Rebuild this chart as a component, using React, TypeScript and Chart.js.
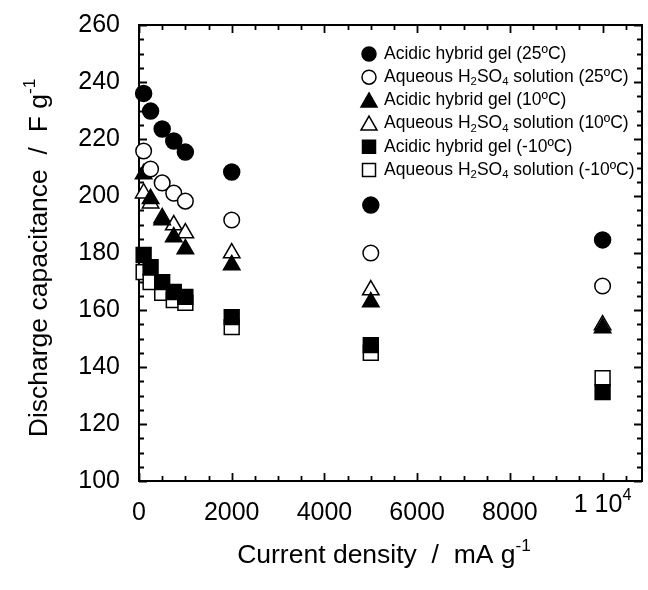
import React, { useEffect, useRef } from "react";
import { Chart, registerables } from "chart.js";

Chart.register(...registerables);

const currentDensity = [100, 250, 500, 750, 1000, 2000, 5000, 10000];
const gel25 = [236.0, 229.8, 223.5, 219.3, 215.4, 208.4, 196.8, 184.6];
const aq25 = [215.8, 209.5, 204.6, 201.0, 198.2, 191.6, 180.0, 168.4];
const gel10 = [207.7, 199.0, 191.6, 185.6, 181.4, 175.8, 162.8, 153.7];
const aq10 = [201.0, 197.5, 192.3, 189.8, 187.0, 180.0, 167.0, 154.7];
const gelM10 = [179.3, 175.0, 169.8, 166.3, 164.6, 157.5, 147.7, 131.2];
const aqM10 = [173.3, 169.8, 166.0, 163.5, 162.5, 154.0, 145.0, 136.1];

const xTickValues = [0, 2000, 4000, 6000, 8000, 10000];
const yTickValues = [100, 120, 140, 160, 180, 200, 220, 240, 260];

type Seg = { t: string; sub?: boolean; sup?: boolean };

const legendLabels: Seg[][] = [
  [{ t: "Acidic hybrid gel (25ºC)" }],
  [{ t: "Aqueous H" }, { t: "2", sub: true }, { t: "SO" }, { t: "4", sub: true }, { t: " solution (25ºC)" }],
  [{ t: "Acidic hybrid gel (10ºC)" }],
  [{ t: "Aqueous H" }, { t: "2", sub: true }, { t: "SO" }, { t: "4", sub: true }, { t: " solution (10ºC)" }],
  [{ t: "Acidic hybrid gel (-10ºC)" }],
  [{ t: "Aqueous H" }, { t: "2", sub: true }, { t: "SO" }, { t: "4", sub: true }, { t: " solution (-10ºC)" }],
];
const legendShapes = ["circle", "circle", "triangle", "triangle", "rect", "rect"];
const legendFilled = [true, false, true, false, true, false];

const xTitle: Seg[] = [{ t: "Current density  /  mA g" }, { t: "-1", sup: true }];
const yTitle: Seg[] = [{ t: "Discharge capacitance  /  F g" }, { t: "-1", sup: true }];
const tenK: Seg[] = [{ t: "1 10" }, { t: "4", sup: true }];

const FONT = "'Liberation Sans', Arial, sans-serif";

function richWidth(ctx: CanvasRenderingContext2D, segs: Seg[], size: number) {
  let w = 0;
  for (const s of segs) {
    const fs = s.sub || s.sup ? size * 0.65 : size;
    ctx.font = `${fs}px ${FONT}`;
    w += ctx.measureText(s.t).width;
  }
  return w;
}

function drawRich(
  ctx: CanvasRenderingContext2D,
  segs: Seg[],
  x: number,
  y: number,
  size: number,
  align: "left" | "center"
) {
  const w = richWidth(ctx, segs, size);
  let cx = align === "center" ? x - w / 2 : x;
  ctx.textAlign = "left";
  ctx.textBaseline = "middle";
  ctx.fillStyle = "#000";
  for (const s of segs) {
    const fs = s.sub || s.sup ? size * 0.65 : size;
    ctx.font = `${fs}px ${FONT}`;
    let dy = 0;
    if (s.sub) dy = size * 0.28;
    if (s.sup) dy = -size * 0.38;
    ctx.fillText(s.t, cx, y + dy);
    cx += ctx.measureText(s.t).width;
  }
}

function drawMarker(
  ctx: CanvasRenderingContext2D,
  shape: string,
  filled: boolean,
  x: number,
  y: number
) {
  ctx.beginPath();
  if (shape === "circle") {
    ctx.arc(x, y, 7, 0, Math.PI * 2);
  } else if (shape === "triangle") {
    ctx.moveTo(x, y - 7.5);
    ctx.lineTo(x + 8, y + 6.5);
    ctx.lineTo(x - 8, y + 6.5);
    ctx.closePath();
  } else {
    ctx.rect(x - 6.5, y - 6.5, 13, 13);
  }
  ctx.fillStyle = filled ? "#000" : "#fff";
  ctx.fill();
  ctx.lineWidth = 1.5;
  ctx.strokeStyle = "#000";
  ctx.stroke();
}

const framePlugin = {
  id: "frame",
  beforeDatasetsDraw(chart: any) {
    const ctx: CanvasRenderingContext2D = chart.ctx;
    const { left, right, top, bottom } = chart.chartArea;
    const xs = chart.scales.x;
    const ys = chart.scales.y;
    ctx.save();
    ctx.strokeStyle = "#000";
    ctx.lineWidth = 2;
    ctx.strokeRect(left, top, right - left, bottom - top);
    ctx.lineWidth = 1.8;
    ctx.beginPath();
    for (let v = 0; v <= xs.max; v += 500) {
      const px = Math.round(xs.getPixelForValue(v)) + 0.5;
      const len = v % 2000 === 0 ? 8 : 5;
      ctx.moveTo(px, bottom);
      ctx.lineTo(px, bottom - len);
      ctx.moveTo(px, top);
      ctx.lineTo(px, top + len);
    }
    for (let v = ys.min; v <= ys.max; v += 5) {
      const py = Math.round(ys.getPixelForValue(v)) + 0.5;
      const len = v % 20 === 0 ? 8 : 5;
      ctx.moveTo(left, py);
      ctx.lineTo(left + len, py);
      ctx.moveTo(right, py);
      ctx.lineTo(right - len, py);
    }
    ctx.stroke();
    ctx.restore();
  },
  afterDraw(chart: any) {
    const ctx: CanvasRenderingContext2D = chart.ctx;
    const xs = chart.scales.x;
    ctx.save();
    // 1x10^4 tick label
    drawRich(ctx, tenK, xs.getPixelForValue(10000), 505, 25, "center");
    // axis titles
    drawRich(ctx, xTitle, 384, 556, 26.5, "center");
    ctx.save();
    ctx.translate(40, 258);
    ctx.rotate(-Math.PI / 2);
    drawRich(ctx, yTitle, 0, 0, 26.5, "center");
    ctx.restore();
    // legend
    for (let i = 0; i < legendLabels.length; i++) {
      const y = 54 + i * 23.2;
      drawMarker(ctx, legendShapes[i], legendFilled[i], 369, y);
      drawRich(ctx, legendLabels[i], 384, y, 17.5, "left");
    }
    ctx.restore();
  },
};

function mkData(ys: number[]) {
  return ys.map((y, i) => ({ x: currentDensity[i], y }));
}

export default function App() {
  const ref = useRef<HTMLCanvasElement | null>(null);
  useEffect(() => {
    document.body.style.margin = "0";
    const canvas = ref.current!;
    const ds = (
      label: string,
      values: number[],
      style: string,
      filled: boolean,
      radius: number
    ) => ({
      label,
      data: mkData(values),
      pointStyle: style,
      pointRadius: radius,
      pointHoverRadius: radius,
      backgroundColor: filled ? "#000" : "#fff",
      borderColor: "#000",
      borderWidth: 1.5,
      showLine: false,
      clip: false,
    });
    const chart = new Chart(canvas, {
      type: "scatter",
      data: {
        datasets: [
          ds("Acidic hybrid gel (25ºC)", gel25, "circle", true, 8),
          ds("Aqueous H2SO4 solution (25ºC)", aq25, "circle", false, 7.8),
          ds("Acidic hybrid gel (10ºC)", gel10, "triangle", true, 9.5),
          ds("Aqueous H2SO4 solution (10ºC)", aq10, "triangle", false, 9.5),
          ds("Acidic hybrid gel (-10ºC)", gelM10, "rect", true, 10.5),
          ds("Aqueous H2SO4 solution (-10ºC)", aqM10, "rect", false, 10.5),
        ] as any,
      },
      options: {
        animation: false,
        responsive: false,
        devicePixelRatio: 1,
        layout: { autoPadding: false, padding: { top: 25, right: 6, left: 0, bottom: 0 } },
        plugins: { legend: { display: false }, tooltip: { enabled: false } },
        scales: {
          x: {
            type: "linear",
            min: 0,
            max: 10850,
            grid: { display: false },
            border: { display: false },
            afterFit: (s: any) => {
              s.height = 109;
              s.paddingLeft = 0;
              s.paddingRight = 0;
            },
            afterBuildTicks: (s: any) => {
              s.ticks = xTickValues.map((v) => ({ value: v }));
            },
            ticks: {
              autoSkip: false,
              maxRotation: 0,
              padding: 9,
              color: "#000",
              font: { family: FONT, size: 25 },
              callback: (v: any) => (Number(v) === 10000 ? "" : String(v)),
            },
          },
          y: {
            type: "linear",
            min: 100,
            max: 260,
            grid: { display: false },
            border: { display: false },
            afterFit: (s: any) => {
              s.width = 139;
              s.paddingTop = 0;
              s.paddingBottom = 0;
            },
            afterBuildTicks: (s: any) => {
              s.ticks = yTickValues.map((v) => ({ value: v }));
            },
            ticks: {
              autoSkip: false,
              padding: 11,
              color: "#000",
              font: { family: FONT, size: 25 },
              callback: (v: any) => String(v),
            },
          },
        },
      } as any,
      plugins: [framePlugin],
    });
    return () => chart.destroy();
  }, []);
  return (
    <div style={{ width: 648, height: 590 }}>
      <canvas ref={ref} width={648} height={590} style={{ display: "block" }} />
    </div>
  );
}
